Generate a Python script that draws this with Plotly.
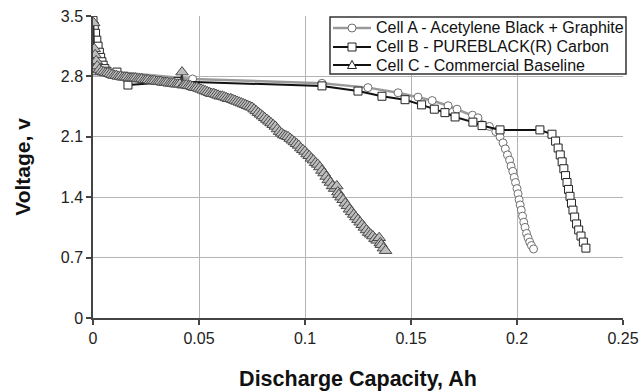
import plotly.graph_objects as go

# ---- data ----
cap_a = [0.0, 0.0008, 0.002, 0.047, 0.108, 0.1297, 0.1439, 0.1533, 0.160, 0.1675, 0.1717, 0.179, 0.1816,
         0.187, 0.190, 0.192, 0.1934, 0.1945, 0.1955, 0.1965, 0.1972, 0.198, 0.1987, 0.1993, 0.2,
         0.2005, 0.201, 0.2015, 0.202, 0.2026, 0.2032, 0.2038, 0.2045, 0.2052, 0.206, 0.2068, 0.2078]
volt_a = [3.05, 2.93, 2.87, 2.77, 2.72, 2.67, 2.61, 2.56, 2.52, 2.46, 2.42, 2.35, 2.32,
          2.22, 2.16, 2.10, 2.03, 1.96, 1.89, 1.83, 1.76, 1.70, 1.63, 1.57, 1.50,
          1.44, 1.37, 1.31, 1.25, 1.18, 1.11, 1.05, 0.98, 0.93, 0.88, 0.84, 0.80]

cap_b = [0.0, 0.0006, 0.0012, 0.0018, 0.0024, 0.003, 0.0036, 0.0042, 0.0048, 0.0056, 0.0066, 0.0113, 0.0165,
         0.04, 0.108, 0.125, 0.1363, 0.1472, 0.155, 0.161, 0.166, 0.1708, 0.1792, 0.1835, 0.192,
         0.2108, 0.2165, 0.2182, 0.2194, 0.2204, 0.2213, 0.2221, 0.2229, 0.2236, 0.2243, 0.225,
         0.2257, 0.2264, 0.2272, 0.2281, 0.2291, 0.2302, 0.2313, 0.2325]
volt_b = [3.45, 3.38, 3.30, 3.22, 3.15, 3.08, 3.02, 2.97, 2.93, 2.89, 2.86, 2.85, 2.70,
          2.74, 2.69, 2.63, 2.57, 2.53, 2.47, 2.42, 2.38, 2.33, 2.27, 2.23, 2.18,
          2.18, 2.13, 2.05, 1.97, 1.89, 1.81, 1.73, 1.65, 1.57, 1.49, 1.41,
          1.33, 1.25, 1.17, 1.09, 1.02, 0.95, 0.88, 0.81]

cap_c = [0.0, 0.0003, 0.0006, 0.001, 0.0015, 0.002, 0.003, 0.004, 0.005, 0.006, 0.007, 0.008, 0.009,
         0.010, 0.011, 0.012, 0.013, 0.014, 0.015, 0.016, 0.017, 0.018, 0.019, 0.020, 0.021, 0.022,
         0.023, 0.024, 0.025, 0.026, 0.027, 0.028, 0.029, 0.030, 0.031, 0.032, 0.033, 0.034, 0.035,
         0.036, 0.037, 0.038, 0.039, 0.040, 0.041, 0.042, 0.0425, 0.043, 0.044, 0.045, 0.046, 0.047,
         0.048, 0.049, 0.050, 0.051, 0.052, 0.053, 0.054, 0.055, 0.056, 0.057, 0.058, 0.059, 0.060,
         0.061, 0.062, 0.063, 0.064, 0.065, 0.066, 0.067, 0.068, 0.069, 0.070, 0.071, 0.072, 0.073,
         0.074, 0.075, 0.076, 0.077, 0.078, 0.079, 0.080, 0.081, 0.082, 0.083, 0.084, 0.085, 0.086,
         0.087, 0.088, 0.089, 0.090, 0.091, 0.092, 0.093, 0.094, 0.095, 0.096, 0.097, 0.098, 0.099,
         0.100, 0.101, 0.102, 0.103, 0.104, 0.105, 0.106, 0.107, 0.108, 0.109, 0.110, 0.111, 0.112,
         0.113, 0.114, 0.115, 0.1155, 0.116, 0.117, 0.118, 0.119, 0.120, 0.121, 0.122, 0.123, 0.124,
         0.125, 0.126, 0.127, 0.128, 0.129, 0.130, 0.131, 0.132, 0.133, 0.134, 0.135, 0.1355, 0.136,
         0.137, 0.138]
volt_c = [2.85, 3.42, 3.12, 3.05, 2.98, 2.92, 2.88, 2.86, 2.85, 2.84, 2.84, 2.83, 2.82,
          2.81, 2.81, 2.80, 2.80, 2.79, 2.79, 2.79, 2.78, 2.78, 2.78, 2.78, 2.77, 2.77,
          2.77, 2.76, 2.76, 2.76, 2.75, 2.75, 2.75, 2.74, 2.74, 2.74, 2.73, 2.73, 2.73,
          2.72, 2.72, 2.72, 2.71, 2.71, 2.71, 2.85, 2.70, 2.70, 2.70, 2.69, 2.69, 2.68,
          2.67, 2.67, 2.66, 2.65, 2.64, 2.63, 2.62, 2.61, 2.60, 2.60, 2.59, 2.58, 2.57,
          2.57, 2.56, 2.55, 2.54, 2.54, 2.53, 2.52, 2.51, 2.50, 2.49, 2.48, 2.47, 2.46,
          2.45, 2.44, 2.42, 2.40, 2.38, 2.36, 2.34, 2.32, 2.30, 2.28, 2.26, 2.24, 2.22,
          2.19, 2.16, 2.14, 2.12, 2.11, 2.10, 2.08, 2.06, 2.04, 2.02, 2.00, 1.97, 1.95,
          1.93, 1.90, 1.88, 1.85, 1.83, 1.80, 1.78, 1.75, 1.71, 1.68, 1.64, 1.60, 1.57,
          1.53, 1.50, 1.53, 1.46, 1.43, 1.40, 1.37, 1.33, 1.30, 1.26, 1.23, 1.20, 1.17,
          1.14, 1.11, 1.08, 1.05, 1.02, 0.99, 0.97, 0.95, 0.92, 0.90, 0.93, 0.87, 0.85,
          0.81, 0.78]

names = ["Cell A - Acetylene Black + Graphite", "Cell B - PUREBLACK(R) Carbon", "Cell C - Commercial Baseline"]
x_ticks = [0, 0.05, 0.1, 0.15, 0.2, 0.25]
x_tick_text = ["0", "0.05", "0.1", "0.15", "0.2", "0.25"]
y_ticks = [0, 0.7, 1.4, 2.1, 2.8, 3.5]
y_tick_text = ["0", "0.7", "1.4", "2.1", "2.8", "3.5"]

FONT = "Liberation Sans, Arial, sans-serif"
W, H = 639, 391
ML, MR, MT, MB = 93, 16, 16, 73
PW, PH = W - ML - MR, H - MT - MB

A_LINE, A_MARK = "#9a9a9a", "#6f6f6f"
B_LINE, B_MARK = "#111111", "#222222"
C_LINE, C_MARK, C_FILL = "#333333", "#4a4a4a", "#bdbdbd"

fig = go.Figure()
fig.add_trace(go.Scatter(
    x=cap_a, y=volt_a, name=names[0], mode="lines+markers",
    line=dict(color=A_LINE, width=2.5),
    marker=dict(symbol="circle", size=8, color="white", line=dict(color=A_MARK, width=1)),
))
fig.add_trace(go.Scatter(
    x=cap_b, y=volt_b, name=names[1], mode="lines+markers",
    line=dict(color=B_LINE, width=2),
    marker=dict(symbol="square", size=8, color="white", line=dict(color=B_MARK, width=1)),
))
fig.add_trace(go.Scatter(
    x=cap_c, y=volt_c, name=names[2], mode="lines+markers",
    line=dict(color=C_LINE, width=1.5),
    marker=dict(symbol="triangle-up", size=11, color=C_FILL, line=dict(color=C_MARK, width=1)),
))


# ---- legend drawn as a box in paper coordinates ----
def px(xpix):
    return (xpix - ML) / PW


def py(ypix):
    return (H - MB - ypix) / PH


shapes = [dict(type="rect", xref="paper", yref="paper", x0=px(330), x1=px(626), y0=py(74), y1=py(17),
               line=dict(color="#333333", width=1.5), fillcolor="white", layer="above")]
annotations = []
rows = [28, 47, 65]
styles = [("circle", A_LINE, A_MARK), ("square", B_LINE, B_MARK), ("triangle", B_LINE, B_MARK)]
for name, ry, (sym, lc, mc) in zip(names, rows, styles):
    shapes.append(dict(type="line", xref="paper", yref="paper", x0=px(333), x1=px(371), y0=py(ry), y1=py(ry),
                       line=dict(color=lc, width=2.5 if sym == "circle" else 2), layer="above"))
    if sym == "circle":
        shapes.append(dict(type="circle", xref="paper", yref="paper", x0=px(348), x1=px(356),
                           y0=py(ry + 4), y1=py(ry - 4), line=dict(color=mc, width=1),
                           fillcolor="white", layer="above"))
    elif sym == "square":
        shapes.append(dict(type="rect", xref="paper", yref="paper", x0=px(348), x1=px(356),
                           y0=py(ry + 4), y1=py(ry - 4), line=dict(color=mc, width=1),
                           fillcolor="white", layer="above"))
    else:
        path = "M {:.5f},{:.5f} L {:.5f},{:.5f} L {:.5f},{:.5f} Z".format(
            px(347.5), py(ry + 3.5), px(356.5), py(ry + 3.5), px(352), py(ry - 4.5))
        shapes.append(dict(type="path", xref="paper", yref="paper", path=path,
                           line=dict(color=mc, width=1), fillcolor="white", layer="above"))
    annotations.append(dict(text=name, xref="paper", yref="paper", x=px(373.5), y=py(ry),
                            xanchor="left", yanchor="middle", showarrow=False,
                            font=dict(family=FONT, size=16, color="#111111")))

fig.update_layout(
    width=W, height=H,
    margin=dict(l=ML, r=MR, t=MT, b=MB, autoexpand=False),
    paper_bgcolor="white", plot_bgcolor="white",
    font=dict(family=FONT, color="#222222", size=16),
    showlegend=False,
    shapes=shapes, annotations=annotations,
    xaxis=dict(
        range=[0, 0.25], tickmode="array", tickvals=x_ticks, ticktext=x_tick_text,
        showgrid=True, gridcolor="#b4b4b4", gridwidth=1,
        showline=True, linecolor="#444444", linewidth=1.5,
        ticks="outside", ticklen=5, tickcolor="#444444", tickwidth=1.5,
        zeroline=False, tickfont=dict(size=16, color="#222222"),
        title=dict(text="<b>Discharge Capacity, Ah</b>", font=dict(size=21.5, color="#111111"), standoff=25),
    ),
    yaxis=dict(
        range=[0, 3.5], tickmode="array", tickvals=y_ticks, ticktext=y_tick_text,
        showgrid=True, gridcolor="#b4b4b4", gridwidth=1,
        showline=True, linecolor="#444444", linewidth=1.5,
        ticks="outside", ticklen=5, tickcolor="#444444", tickwidth=1.5,
        zeroline=False, tickfont=dict(size=16, color="#222222"),
        title=dict(text="<b>Voltage, v</b>", font=dict(size=21, color="#111111"), standoff=24),
    ),
)

fig.write_html("out.html")
